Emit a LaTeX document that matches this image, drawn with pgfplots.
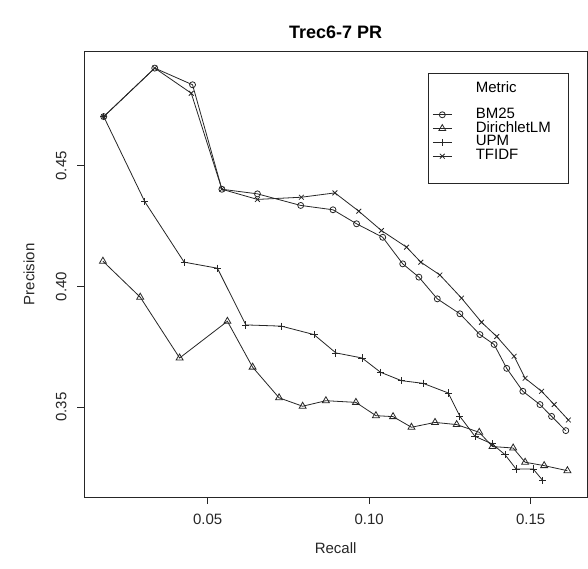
\documentclass[border=0pt]{standalone}
\usepackage{pgfplots}
\pgfplotsset{compat=1.18}
\usepackage{fontspec}
\setmainfont{Liberation Sans}
\begin{document}
\begin{tikzpicture}[x=1pt,y=1pt]
\path[use as bounding box] (0,0) rectangle (588,569);
\begin{axis}[
  at={(84.3pt,72pt)}, anchor=south west,
  width=502.7pt, height=445.3pt, scale only axis,
  xmin=0.01178, xmax=0.16747, ymin=0.3128, ymax=0.4973,
  axis line style={line width=0.8pt, black!85},
  xtick={0.05,0.10,0.15}, ytick={0.35,0.40,0.45},
  xtick pos=bottom, ytick pos=left,
  tick align=outside, major tick length=7.2pt,
  tick style={line width=0.8pt, black!85},
  /pgf/number format/.cd, fixed, fixed zerofill, precision=2, assume math mode=true,
  /pgfplots/.cd,
  tick label style={font=\fontsize{15}{17}\selectfont, text=black!85},
  xticklabel style={yshift=-6pt},
  yticklabel style={xshift=-7pt, rotate=90, anchor=south},
  xlabel={Recall}, ylabel={Precision},
  label style={font=\fontsize{15}{17}\selectfont, text=black!85},
  xlabel style={at={(axis description cs:0.5,-0.1145)}, anchor=center},
  ylabel style={at={(axis description cs:-0.110,0.5)}, anchor=center},
  title={Trec6-7 PR},
  title style={at={(axis description cs:0.5,1.0487)}, anchor=center, yshift=-8pt, font=\fontsize{18}{20}\selectfont\bfseries},
  every axis plot/.append style={line width=0.8pt, black!85, mark options={solid, line width=0.8pt}},
  legend cell align=left,
  legend style={at={(0.6837,0.9515)}, anchor=north west, draw=black!85, line width=0.8pt,
    font=\fontsize{15}{17}\selectfont, inner xsep=4pt, inner ysep=6.6pt, row sep=0pt,
    nodes={inner xsep=0pt, inner ysep=0pt, text height=10.5pt, text depth=3.3pt}},
  legend image code/.code={\draw[mark repeat=2,mark phase=2,#1] plot coordinates {(0pt,0pt) (9.5pt,0pt) (19pt,0pt)}; \path[draw=none,fill=none] (0pt,0pt) (43pt,0pt);},
]
\addlegendimage{empty legend}
\addlegendentry{\raisebox{-1.9pt}{Metric}}
\addlegendimage{empty legend}
\addlegendentry{}

\addplot[mark=o, mark size=3pt] coordinates {
(0.0178,0.4704) (0.0336,0.4905) (0.0453,0.4836) (0.0544,0.4403) (0.0654,0.4384)
(0.0788,0.4336) (0.0888,0.4318) (0.0961,0.4260) (0.1042,0.4204) (0.1104,0.4094)
(0.1154,0.4039) (0.1211,0.3949) (0.1281,0.3887) (0.1343,0.3801) (0.1387,0.3760)
(0.1426,0.3661) (0.1476,0.3566) (0.1529,0.3511) (0.1565,0.3462) (0.1609,0.3403)
};
\addlegendentry{BM25}

\addplot[mark=triangle, mark size=4pt] coordinates {
(0.01755,0.4105) (0.0291,0.3956) (0.0413,0.3704) (0.0561,0.3856) (0.0639,0.3666)
(0.0721,0.3539) (0.0794,0.3504) (0.0866,0.3527) (0.0959,0.3520) (0.1021,0.3465)
(0.1074,0.3461) (0.1131,0.3417) (0.1204,0.3437) (0.1271,0.3428) (0.1341,0.3396)
(0.1382,0.3337) (0.1446,0.3331) (0.1483,0.3272) (0.1542,0.3258) (0.1614,0.3237)
};
\addlegendentry{DirichletLM\rule{14pt}{0pt}}

\addplot[mark=+, mark size=3.6pt] coordinates {
(0.0178,0.4704) (0.0305,0.4352) (0.0427,0.4101) (0.0530,0.4076) (0.0618,0.3841)
(0.0728,0.3836) (0.0829,0.3801) (0.0897,0.3725) (0.0978,0.3704) (0.1035,0.3645)
(0.1100,0.3610) (0.1167,0.3599) (0.1245,0.3559) (0.1281,0.3462) (0.1328,0.3379)
(0.1381,0.3348) (0.1421,0.3303) (0.1455,0.3244) (0.1508,0.3244) (0.1538,0.3196)
};
\addlegendentry{UPM}

\addplot[mark=x, mark size=3.4pt] coordinates {
(0.0178,0.4704) (0.0336,0.4905) (0.0449,0.4801) (0.0544,0.4403) (0.0654,0.4361)
(0.0790,0.4370) (0.0894,0.4388) (0.0968,0.4312) (0.1038,0.4232) (0.1116,0.4163)
(0.1160,0.4101) (0.1219,0.4048) (0.1286,0.3952) (0.1348,0.3852) (0.1395,0.3793)
(0.1449,0.3711) (0.1483,0.3620) (0.1534,0.3566) (0.1573,0.3511) (0.1617,0.3447)
};
\addlegendentry{TFIDF}
\addlegendimage{empty legend}
\addlegendentry{}
\end{axis}
\end{tikzpicture}
\end{document}
